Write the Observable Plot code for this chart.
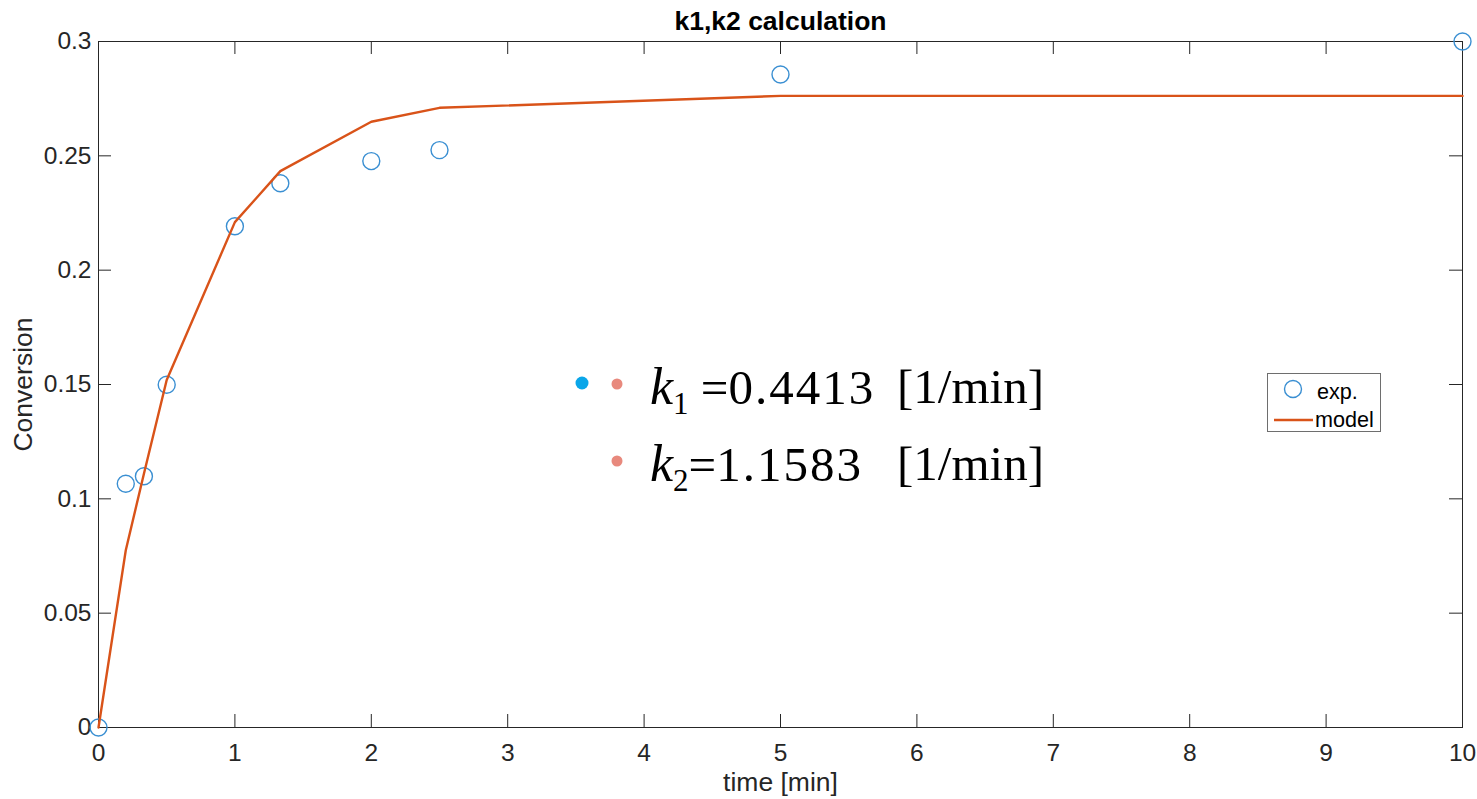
<!DOCTYPE html>
<html>
<head>
<meta charset="utf-8">
<script src="https://cdn.jsdelivr.net/npm/d3@7"></script>
<script src="https://cdn.jsdelivr.net/npm/@observablehq/plot@0.6"></script>
<style>
  html, body { margin: 0; padding: 0; background: #fff; }
  #wrap { position: relative; width: 1477px; height: 799px; overflow: hidden; }
  #wrap svg { display: block; }
  .note { position: absolute; font-family: "Liberation Serif", "DejaVu Serif", serif; font-size: 49px; color: #000; white-space: pre; line-height: 77px; }
  .note i { font-style: italic; font-size: 52px; }
  .note sub { font-size: 31px; vertical-align: baseline; position: relative; top: 10px; }
  .note .val { letter-spacing: 2px; }
  .overlay { position: absolute; left: 0; top: 0; pointer-events: none; }
</style>
</head>
<body>
<div id="wrap"></div>
<script>
// Conversion measured over time vs. the fitted kinetic model
const time = [0, 0.2, 0.333, 0.5, 1, 1.333, 2, 2.5, 5, 10];
const expConversion = [0, 0.1066, 0.1099, 0.1499, 0.2192, 0.2380, 0.2477, 0.2525, 0.2856, 0.300];
const modelConversion = [0, 0.0775, 0.1110, 0.1520, 0.2210, 0.2433, 0.2649, 0.2710, 0.2762, 0.2762];

const xTicks = [0, 1, 2, 3, 4, 5, 6, 7, 8, 9, 10];
const yTicks = [0, 0.05, 0.1, 0.15, 0.2, 0.25, 0.3];

const rateNames = ["1", "2"];
const rateValues = ["0.4413", "1.1583"];
const rateUnit = "[1/min]";

const titleText = "k1,k2 calculation";
const xLabel = "time [min]";
const yLabel = "Conversion";
const legendLabels = ["exp.", "model"];

const W = 1477, H = 799;
const mL = 98, mR = 15, mT = 41, mB = 72;
const innerW = W - mL - mR, innerH = H - mT - mB;
const tickLen = 13;

const expData = time.map((t, i) => ({t, v: expConversion[i]}));
const modelData = time.map((t, i) => ({t, v: modelConversion[i]}));

const axisColor = "#262626";
const blue = "#3a8fd2", orange = "#D95319";
const sans = "'Liberation Sans', Arial, sans-serif";

const chart = Plot.plot({
  width: W, height: H,
  marginLeft: mL, marginRight: mR, marginTop: mT, marginBottom: mB,
  x: {domain: [0, 10], label: null},
  y: {domain: [0, 0.3], label: null},
  style: {fontFamily: sans, fontSize: "24px", color: axisColor, background: "#fff", overflow: "visible"},
  marks: [
    // inward ticks on all four sides of the box
    Plot.tickX(xTicks, {x: d => d, stroke: axisColor, insetTop: innerH - tickLen}),
    Plot.tickX(xTicks, {x: d => d, stroke: axisColor, insetBottom: innerH - tickLen}),
    Plot.tickY(yTicks, {y: d => d, stroke: axisColor, insetRight: innerW - tickLen}),
    Plot.tickY(yTicks, {y: d => d, stroke: axisColor, insetLeft: innerW - tickLen}),
    Plot.frame({stroke: axisColor, strokeWidth: 1}),
    Plot.axisX({anchor: "bottom", ticks: xTicks, tickSize: 0, tickPadding: 16, tickFormat: d => String(d), label: null, fill: axisColor, fontSize: 24.5}),
    Plot.axisY({anchor: "left", ticks: yTicks, tickSize: 0, tickPadding: 7, tickFormat: d => String(d), label: null, fill: axisColor, fontSize: 24.5}),
    // measured points, then the model curve on top
    Plot.dot(expData, {x: "t", y: "v", r: 8.5, stroke: blue, strokeWidth: 1.4, fill: "none"}),
    Plot.line(modelData, {x: "t", y: "v", stroke: orange, strokeWidth: 2.4}),
    // title and axis labels
    Plot.text([titleText], {frameAnchor: "top", lineAnchor: "middle", textAnchor: "middle", dy: -19.5, text: d => d, fontWeight: "bold", fontSize: 26.5, fill: "#000"}),
    Plot.text([xLabel], {frameAnchor: "bottom", lineAnchor: "middle", textAnchor: "middle", dy: 55.5, text: d => d, fontSize: 26.5, fill: axisColor}),
    Plot.text([yLabel], {frameAnchor: "left", lineAnchor: "middle", textAnchor: "middle", dx: -75, rotate: -90, text: d => d, fontSize: 26.5, fill: axisColor})
  ]
});

const wrap = document.getElementById("wrap");
wrap.appendChild(chart);

// legend box and bullet dots drawn on an overlay
const ov = d3.select(wrap).append("svg").attr("class", "overlay").attr("width", W).attr("height", H);

const lg = ov.append("g");
lg.append("rect").attr("x", 1267.5).attr("y", 373.5).attr("width", 113).attr("height", 58)
  .attr("fill", "#fff").attr("stroke", "#6e6e6e").attr("stroke-width", 1);
lg.append("circle").attr("cx", 1293).attr("cy", 389).attr("r", 8.5)
  .attr("fill", "none").attr("stroke", blue).attr("stroke-width", 1.4);
lg.append("line").attr("x1", 1274).attr("x2", 1313).attr("y1", 420).attr("y2", 420)
  .attr("stroke", orange).attr("stroke-width", 2.4);
lg.append("text").attr("x", 1317).attr("y", 399).text(legendLabels[0])
  .attr("font-family", sans).attr("font-size", 21.6).attr("fill", "#000");
lg.append("text").attr("x", 1315).attr("y", 427).text(legendLabels[1])
  .attr("font-family", sans).attr("font-size", 21.6).attr("fill", "#000");

ov.append("circle").attr("cx", 582).attr("cy", 383).attr("r", 6.5).attr("fill", "#0aa6e9");
ov.append("circle").attr("cx", 617).attr("cy", 384).attr("r", 5.5).attr("fill", "#e8897d");
ov.append("circle").attr("cx", 617).attr("cy", 461).attr("r", 5.5).attr("fill", "#e8897d");

// rate constant annotation
const baselines = [403, 480];
rateNames.forEach((n, i) => {
  const top = baselines[i] - 55;
  const left = document.createElement("div");
  left.className = "note";
  left.style.left = "650px";
  left.style.top = top + "px";
  left.innerHTML = `<i>k</i><sub>${n}</sub>${i === 0 ? " " : ""}=<span class="val">${rateValues[i]}</span>`;
  wrap.appendChild(left);
  const unit = document.createElement("div");
  unit.className = "note";
  unit.style.left = "897px";
  unit.style.top = top + "px";
  unit.textContent = rateUnit;
  wrap.appendChild(unit);
});
</script>
</body>
</html>
